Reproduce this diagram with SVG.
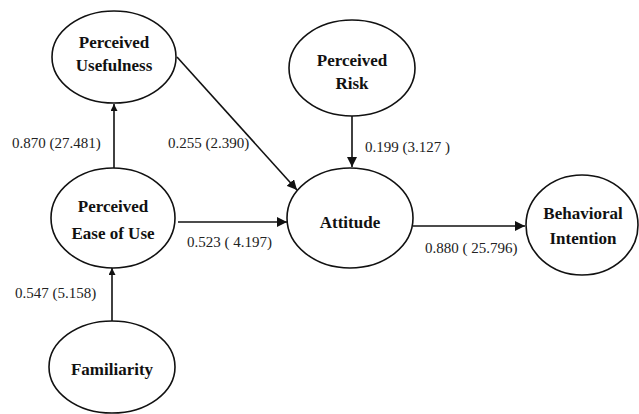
<svg xmlns="http://www.w3.org/2000/svg" width="639" height="414" viewBox="0 0 639 414">
<style>
.n ellipse{fill:#fff;stroke:#111;stroke-width:1.6}
.n text{font-family:"Liberation Serif",serif;font-weight:bold;font-size:17px;fill:#111;text-anchor:middle}
.c line{stroke:#111;stroke-width:1.6}
.t{font-family:"Liberation Serif",serif;font-size:15px;fill:#222}
</style>
<defs>
<marker id="a" viewBox="0 0 10 10" refX="10" refY="5" markerWidth="7" markerHeight="7" markerUnits="userSpaceOnUse" orient="auto"><path d="M0,0L10,5L0,10z" fill="#111"/></marker>
<marker id="b" viewBox="0 0 10 10" refX="10" refY="5" markerWidth="10" markerHeight="10" markerUnits="userSpaceOnUse" orient="auto"><path d="M0,0L10,5L0,10z" fill="#111"/></marker>
</defs>
<rect width="639" height="414" fill="#fff"/>
<g class="c">
<line x1="114" y1="168" x2="114" y2="104" marker-end="url(#a)"/>
<line x1="177" y1="57" x2="297" y2="190" marker-end="url(#b)"/>
<line x1="352" y1="116" x2="352" y2="167" marker-end="url(#b)"/>
<line x1="178" y1="222" x2="287" y2="222" marker-end="url(#b)"/>
<line x1="413" y1="226" x2="525" y2="226" marker-end="url(#b)"/>
<line x1="112" y1="325" x2="112" y2="268" marker-end="url(#a)"/>
</g>
<g id="pu" class="n"><ellipse cx="114" cy="57" rx="62" ry="46"/><text x="114" y="48">Perceived</text><text x="114" y="71">Usefulness</text></g>
<g id="pr" class="n"><ellipse cx="352" cy="68" rx="63" ry="48"/><text x="352" y="66">Perceived</text><text x="352" y="89">Risk</text></g>
<g id="peou" class="n"><ellipse cx="113" cy="218" rx="62" ry="50"/><text x="113" y="212">Perceived</text><text x="113" y="239">Ease of Use</text></g>
<g id="att" class="n"><ellipse cx="350" cy="218" rx="63" ry="50"/><text x="350" y="228">Attitude</text></g>
<g id="bi" class="n"><ellipse cx="582" cy="225" rx="56" ry="50"/><text x="583" y="219">Behavioral</text><text x="583" y="244">Intention</text></g>
<g id="fam" class="n"><ellipse cx="112" cy="367" rx="63" ry="46"/><text x="112" y="375">Familiarity</text></g>
<g id="labels">
<text class="t" x="12" y="148">0.870 (27.481)</text>
<text class="t" x="168" y="148">0.255 (2.390)</text>
<text class="t" x="365" y="152">0.199 (3.127 )</text>
<text class="t" x="187" y="247">0.523 ( 4.197)</text>
<text class="t" x="425" y="253">0.880 ( 25.796)</text>
<text class="t" x="15" y="298">0.547 (5.158)</text>
</g>
</svg>
